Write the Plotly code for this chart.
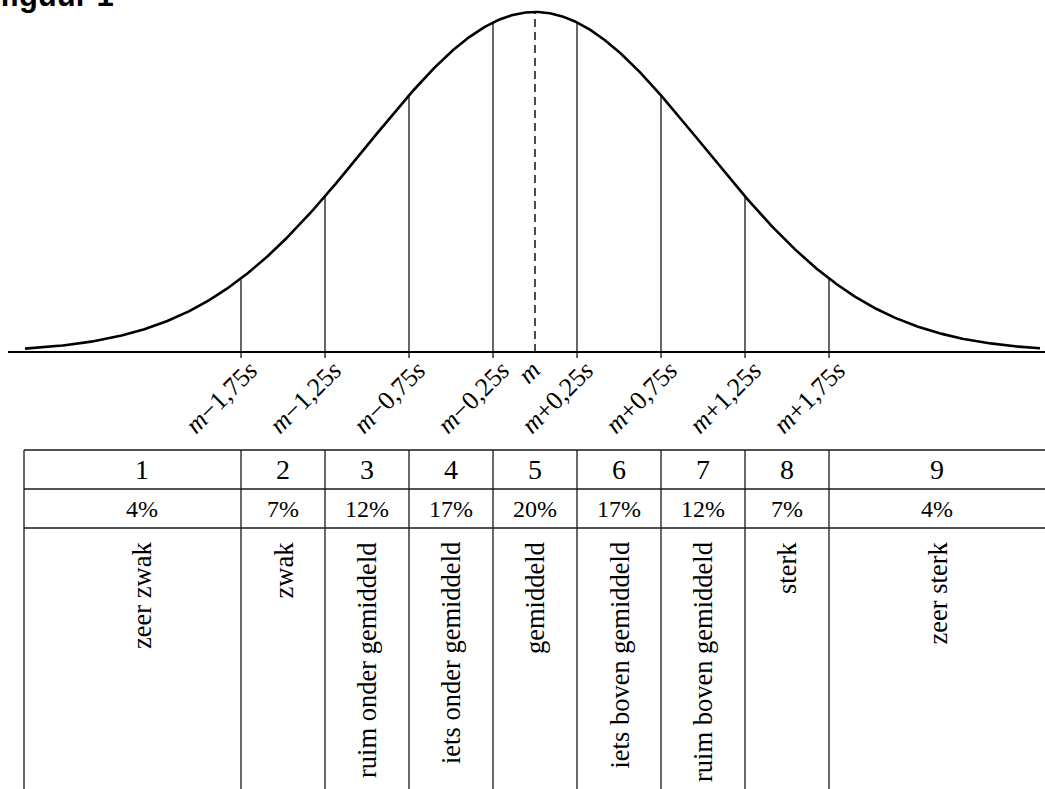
import numpy as np
import plotly.graph_objects as go

# ---- data ----
tick_z = [-1.75, -1.25, -0.75, -0.25, 0.0, 0.25, 0.75, 1.25, 1.75]
tick_labels = ["<i>m</i>−1,75<i>s</i>", "<i>m</i>−1,25<i>s</i>", "<i>m</i>−0,75<i>s</i>",
               "<i>m</i>−0,25<i>s</i>", "<i>m</i>", "<i>m</i>+0,25<i>s</i>",
               "<i>m</i>+0,75<i>s</i>", "<i>m</i>+1,25<i>s</i>", "<i>m</i>+1,75<i>s</i>"]
boundaries = [-1.75, -1.25, -0.75, -0.25, 0.25, 0.75, 1.25, 1.75]
stanines = ["1", "2", "3", "4", "5", "6", "7", "8", "9"]
percents = ["4%", "7%", "12%", "17%", "20%", "17%", "12%", "7%", "4%"]
descriptions = ["zeer zwak", "zwak", "ruim onder gemiddeld", "iets onder gemiddeld",
                "gemiddeld", "iets boven gemiddeld", "ruim boven gemiddeld",
                "sterk", "zeer sterk"]

SERIF = "Liberation Serif, Times New Roman, Tinos, DejaVu Serif, serif"

W, H = 1045, 789
X0_PX, UNIT_PX = 535.0, 168.0      # pixel of m, pixels per s
BASE_PX, PEAK_PX = 352.0, 12.0
YUNIT = BASE_PX - PEAK_PX

def xz(px):
    return (px - X0_PX) / UNIT_PX

def yv(px):
    return (BASE_PX - px) / YUNIT

xrange_ = [xz(0), xz(W)]
yrange_ = [yv(H), yv(0)]

fig = go.Figure()

# normal curve
z = np.linspace(xz(25), xz(1040), 800)
fig.add_trace(go.Scatter(x=z, y=np.exp(-z ** 2 / 2), mode="lines",
                         line=dict(color="black", width=2.6), hoverinfo="skip"))

# baseline
fig.add_trace(go.Scatter(x=[xz(8), xz(W)], y=[0, 0], mode="lines",
                         line=dict(color="black", width=2), hoverinfo="skip"))

# vertical lines at boundaries
vx, vy = [], []
for b in boundaries:
    vx += [b, b, None]
    vy += [yv(BASE_PX + 6), float(np.exp(-b ** 2 / 2)), None]
fig.add_trace(go.Scatter(x=vx, y=vy, mode="lines",
                         line=dict(color="black", width=1.2), hoverinfo="skip"))

# dashed mean line
fig.add_trace(go.Scatter(x=[0, 0], y=[0, 1], mode="lines",
                         line=dict(color="black", width=1.4, dash="8px,5px"),
                         hoverinfo="skip"))

annotations = []
for zt, lab in zip(tick_z, tick_labels):
    annotations.append(dict(x=zt, y=0, xref="x", yref="y", text=lab, showarrow=False,
                            textangle=-45, xanchor="right", yanchor="top",
                            xshift=14 if zt == 0 else 25, yshift=-1,
                            font=dict(family=SERIF, size=26, color="black")))

# table
left_edge, right_edge = xz(24), xz(W)
cols = [left_edge] + boundaries + [right_edge]
text_cols = [xz(42)] + boundaries + [right_edge]
row_top, row1, row2, row_bot = yv(450), yv(489), yv(528), yv(H)
line_col = "#1a1a1a"
shapes = []
for yy in (row_top, row1, row2):
    shapes.append(dict(type="line", xref="x", yref="y", x0=left_edge, x1=right_edge,
                       y0=yy, y1=yy, line=dict(color=line_col, width=1.3)))
for c in cols[:-1]:
    shapes.append(dict(type="line", xref="x", yref="y", x0=c, x1=c,
                       y0=row_top, y1=row_bot, line=dict(color=line_col, width=1.3)))

for i in range(9):
    cx = (text_cols[i] + text_cols[i + 1]) / 2
    annotations.append(dict(x=cx, y=(row_top + row1) / 2, xref="x", yref="y",
                            text=stanines[i], showarrow=False,
                            font=dict(family=SERIF, size=28, color="black")))
    annotations.append(dict(x=cx, y=(row1 + row2) / 2, xref="x", yref="y",
                            text=percents[i], showarrow=False,
                            font=dict(family=SERIF, size=24, color="black")))
    annotations.append(dict(x=cx, y=yv(540), xref="x", yref="y",
                            text=descriptions[i], showarrow=False, textangle=-90,
                            xanchor="center", yanchor="top",
                            font=dict(family=SERIF, size=26.5, color="black")))

# cut-off title
annotations.append(dict(x=0, y=1, xref="paper", yref="paper", text="<b>figuur 1</b>",
                        showarrow=False, xanchor="left", yanchor="bottom", xshift=-2,
                        yshift=-15,
                        font=dict(family="Liberation Sans, Arial, sans-serif", size=31,
                                  color="black")))

fig.update_layout(
    width=W, height=H, margin=dict(l=0, r=0, t=0, b=0),
    paper_bgcolor="white", plot_bgcolor="white", showlegend=False,
    xaxis=dict(range=xrange_, visible=False, fixedrange=True),
    yaxis=dict(range=yrange_, visible=False, fixedrange=True),
    shapes=shapes, annotations=annotations,
)

fig.write_html("out.html", config={"displayModeBar": False},
               post_script="document.body.style.margin='0';"
                           "document.body.style.overflow='hidden';")
